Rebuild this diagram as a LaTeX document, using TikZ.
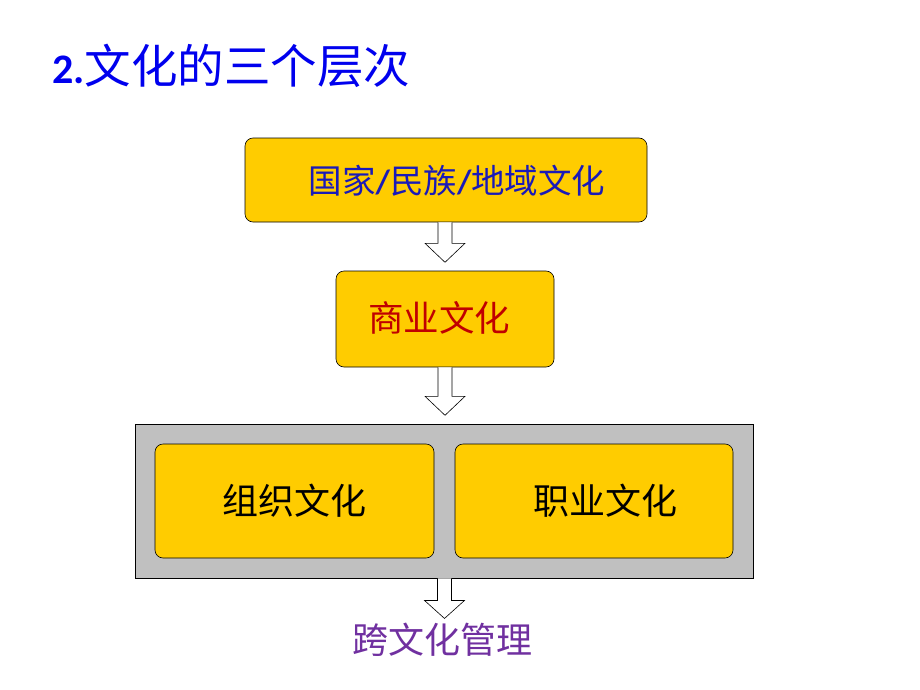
\documentclass[tikz,border=0pt]{standalone}
\usepackage{fontspec}
\newfontfamily\cjk{Noto Sans CJK SC}
\newfontfamily\latinb{Carlito}
\usetikzlibrary{calc}
\definecolor{gold}{HTML}{FFCC00}
\definecolor{titleblue}{HTML}{0000EE}
\definecolor{darkblue}{HTML}{1A1AB8}
\definecolor{darkred}{HTML}{C00000}
\definecolor{purp}{HTML}{7030A0}
\definecolor{grayfill}{HTML}{C0C0C0}
\tikzset{
  goldbox/.style={draw=black, line width=0.6pt, fill=gold, rounded corners=8pt, inner sep=0pt},
  graybox/.style={draw=black, line width=0.9pt, fill=grayfill, inner sep=0pt},
  barrow/.style={draw=black, line width=0.6pt, fill=white},
  cjktext/.style={font=\cjk, inner sep=0pt}
}
\begin{document}
\begin{tikzpicture}[x=1pt,y=-1pt]
\useasboundingbox (0,0) rectangle (920,690);
\fill[white] (0,0) rectangle (920,690);
% title
\node[cjktext, anchor=west, text=titleblue] (title) at (52,66) {\fontsize{42}{48}\selectfont{\latinb\bfseries 2.}\fontsize{46.5}{50}\selectfont 文化的三个层次};
% boxes
\node[goldbox, minimum width=402pt, minimum height=84pt] (b1) at (446,180) {};
\node[cjktext, text=darkblue] (t1) at (457,181) {\fontsize{33.5}{36}\selectfont 国家{\latinb\bfseries /}民族{\latinb\bfseries /}地域文化};
\node[goldbox, minimum width=218pt, minimum height=96pt] (b2) at (445,319) {};
\node[cjktext, text=darkred] (t2) at (439,318) {\fontsize{35.5}{38}\selectfont 商业文化};
\node[graybox, minimum width=618pt, minimum height=154pt] (g) at (444,501) {};
\node[goldbox, minimum width=279pt, minimum height=114pt, text=black, font=\cjk\fontsize{36}{38}\selectfont] (b3) at (294.5,501) {组织文化};
\node[goldbox, minimum width=278pt, minimum height=114pt, text=black, font=\cjk\fontsize{36}{38}\selectfont] (b4) at (594,501) {\hspace*{22pt}职业文化};
\node[cjktext, text=purp] (t5) at (442,640) {\fontsize{36}{38}\selectfont 跨文化管理};
% block arrows
\draw[barrow] ($(b1.south)+(-8,0)$) -- ++(0,21) -- ++(-13,0) -- ++(20,19) -- ++(20,-19) -- ++(-13,0) -- ++(0,-21);
\draw[barrow] ($(b2.south)+(-7,0)$) -- ++(0,29) -- ++(-13,0) -- ++(20,19) -- ++(20,-19) -- ++(-13,0) -- ++(0,-29);
\draw[barrow] ($(g.south)+(-6.5,0)$) -- ++(0,22) -- ++(-13,0) -- ++(20,18) -- ++(20,-18) -- ++(-13,0) -- ++(0,-22);
\end{tikzpicture}
\end{document}
